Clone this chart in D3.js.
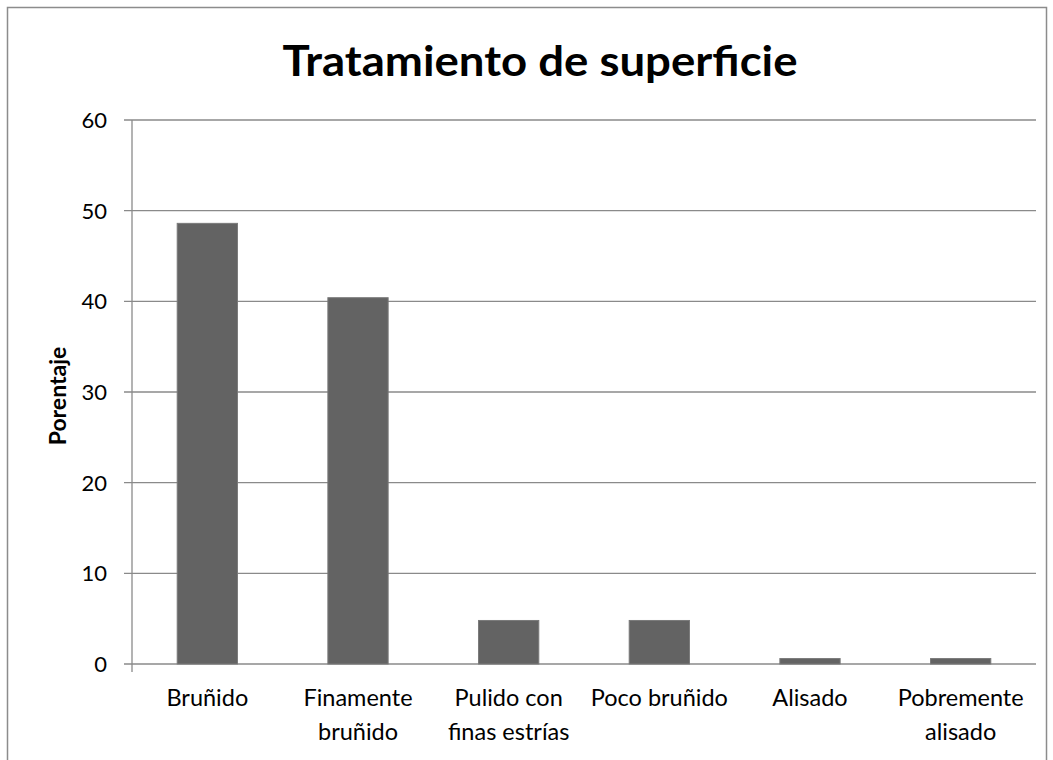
<!DOCTYPE html>
<html>
<head>
<meta charset="utf-8">
<script src="https://cdn.jsdelivr.net/npm/d3@7"></script>
<style>
  body { margin: 0; background: #fff; }
  text { font-family: Lato, "Open Sans", "Liberation Sans", sans-serif; fill: #000; }
</style>
</head>
<body>
<div class="chart"></div>
<script>
var width = 1053; // svg 宽度
var height = 760; // svg 高度

// 数据
var categories = [
    ["Bruñido"],
    ["Finamente", "bruñido"],
    ["Pulido con", "finas estrías"],
    ["Poco bruñido"],
    ["Alisado"],
    ["Pobremente", "alisado"]
];
var values = [48.6, 40.4, 4.8, 4.8, 0.6, 0.6];
var yTicks = [0, 10, 20, 30, 40, 50, 60];

var margin = { left: 132, right: 1036, top: 120, bottom: 664 };

var svg = d3.select(".chart")
    .append("svg")
    .attr("width", width)
    .attr("height", height);

// 外框
svg.append("rect")
    .attr("x", 7.5)
    .attr("y", 7.5)
    .attr("width", 1039)
    .attr("height", 770)
    .attr("fill", "none")
    .attr("stroke", "#8c8c8c")
    .attr("stroke-width", 1.5);

var x = d3.scaleBand()
    .domain(d3.range(categories.length))
    .range([margin.left, margin.right])
    .paddingInner(0.6)
    .paddingOuter(0.3);

var y = d3.scaleLinear()
    .domain([0, 60])
    .range([margin.bottom, margin.top]);

// 网格线
svg.append("g")
    .selectAll("line")
    .data(yTicks)
    .enter()
    .append("line")
    .attr("x1", margin.left - 8)
    .attr("x2", margin.right)
    .attr("y1", d => y(d))
    .attr("y2", d => y(d))
    .attr("stroke", "#8a8a8a")
    .attr("stroke-width", 1.3);

// y 轴刻度文字
svg.append("g")
    .selectAll("text")
    .data(yTicks)
    .enter()
    .append("text")
    .attr("x", margin.left - 25)
    .attr("y", d => y(d) + 8)
    .attr("text-anchor", "end")
    .attr("font-size", 22)
    .text(d => d);

// 柱子
svg.append("g")
    .selectAll("rect")
    .data(values)
    .enter()
    .append("rect")
    .attr("x", (d, i) => x(i))
    .attr("y", d => y(d))
    .attr("width", x.bandwidth())
    .attr("height", d => y(0) - y(d))
    .attr("fill", "#636363")
    .attr("stroke", "#7a7a7a")
    .attr("stroke-width", 1);

// y 轴线
svg.append("line")
    .attr("x1", margin.left)
    .attr("x2", margin.left)
    .attr("y1", margin.top)
    .attr("y2", margin.bottom + 8)
    .attr("stroke", "#8a8a8a")
    .attr("stroke-width", 1.3);

// x 轴文字
var step = x.step();
var labels = svg.append("g")
    .selectAll("text")
    .data(categories)
    .enter()
    .append("text")
    .attr("text-anchor", "middle")
    .attr("font-size", 23.5);
labels.selectAll("tspan")
    .data((d, i) => d.map(t => ({ t: t, i: i })))
    .enter()
    .append("tspan")
    .attr("x", d => margin.left + step * d.i + step / 2)
    .attr("y", (d, j) => 706 + j * 34)
    .text(d => d.t);

// 标题
svg.append("text")
    .attr("x", 540)
    .attr("y", 76)
    .attr("text-anchor", "middle")
    .attr("font-size", 42)
    .attr("font-weight", "bold")
    .attr("textLength", 515)
    .attr("lengthAdjust", "spacingAndGlyphs")
    .text("Tratamiento de superficie");

// y 轴标题
svg.append("text")
    .attr("transform", "translate(66,396) rotate(-90)")
    .attr("text-anchor", "middle")
    .attr("font-size", 23)
    .attr("font-weight", "bold")
    .text("Porentaje");
</script>
</body>
</html>
